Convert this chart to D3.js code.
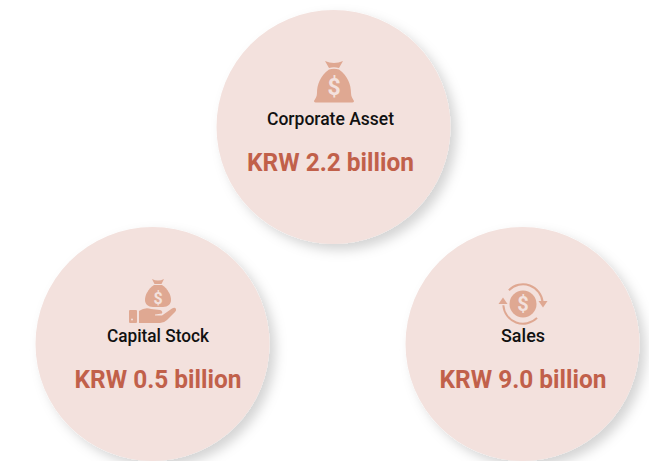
<!DOCTYPE html>
<html>
<head>
<meta charset="utf-8">
<script src="https://cdnjs.cloudflare.com/ajax/libs/d3/7.8.5/d3.min.js"></script>
<style>
    html, body { margin: 0; padding: 0; background: #fff; }
    svg { display: block; }
    text { font-family: Roboto, sans-serif; }
</style>
</head>
<body>
<div id="chart"></div>
<script>
var labels = ["Corporate Asset", "Capital Stock", "Sales"];
var amounts = [2.2, 0.5, 9.0];
var icons = ["bag", "hand", "cycle"];

var width = 649, height = 461;
var radius = 117;
var bubbleColor = "#f3e1dd", iconColor = "#dfa892", valueColor = "#c1604a";

// where each bubble sits and where its text is centred
var bubbleX = [333.5, 152.5, 522.5], bubbleY = [127, 344, 344];
var textX = [330.5, 158, 523];
var iconX = [334, 158, 523], iconY = [87, 298, 304];
// measured widths, the original font is narrower than Roboto
var labelWidth = [127, 102, 44];
var valueWidth = 167;

var canvas = d3.select("#chart").append("svg")
    .attr("width", width)
    .attr("height", height);

var defs = canvas.append("defs");
var shadow = defs.append("filter")
    .attr("id", "shadow")
    .attr("x", "-20%").attr("y", "-20%")
    .attr("width", "140%").attr("height", "140%");
shadow.append("feDropShadow")
    .attr("dx", 6).attr("dy", 6)
    .attr("stdDeviation", 6)
    .attr("flood-color", "#000")
    .attr("flood-opacity", 0.17);

var data = labels.map(function (d, i) {
    return { label: d, amount: amounts[i], icon: icons[i], i: i };
});

canvas.selectAll("circle.bubble")
    .data(data)
    .enter()
    .append("circle")
    .attr("class", "bubble")
    .attr("cx", function (d) { return bubbleX[d.i]; })
    .attr("cy", function (d) { return bubbleY[d.i]; })
    .attr("r", radius)
    .attr("fill", bubbleColor)
    .attr("filter", "url(#shadow)");

function dollar(g, size, fill) {
    g.append("text")
        .attr("text-anchor", "middle")
        .attr("y", size * 0.36)
        .attr("font-size", size)
        .attr("font-weight", 700)
        .attr("fill", fill)
        .text("$");
}

function drawBag(g) {
    g.append("path")
        .attr("fill", iconColor)
        .attr("d", "M-9,-26 Q0,-22 9,-26 L5,-19 Q0,-20.5 -5,-19 Z");
    g.append("path")
        .attr("fill", iconColor)
        .attr("d", "M-5,-17.5 Q0,-19 5,-17.5 C14,-11 17,-2 17,6 C17,10 19,12 20,14 Q20,15.5 17,15.5 L-17,15.5 Q-20,15.5 -20,14 C-19,12 -17,10 -17,6 C-17,-2 -14,-11 -5,-17.5 Z");
    dollar(g, 23, bubbleColor);
}

function drawHand(g) {
    g.append("path")
        .attr("fill", iconColor)
        .attr("d", "M-6,-19 Q0,-16 6,-19 L3.5,-14 L-3.5,-14 Z");
    g.append("path")
        .attr("fill", iconColor)
        .attr("d", "M-4,-13 L4,-13 C10,-9 13,-3 13,2 C13,6 10,9 5,9 L-5,9 C-10,9 -13,6 -13,2 C-13,-3 -10,-9 -4,-13 Z");
    dollar(g, 16, bubbleColor);
    g.append("rect")
        .attr("x", -29).attr("y", 12)
        .attr("width", 8).attr("height", 13)
        .attr("rx", 1)
        .attr("fill", iconColor);
    g.append("circle")
        .attr("cx", -26).attr("cy", 21.5)
        .attr("r", 1)
        .attr("fill", bubbleColor);
    g.append("path")
        .attr("fill", iconColor)
        .attr("d", "M-19,13 Q-13,9 -7,11 L2,12 Q5,13 4,15.5 L-3,16.5 L-3,17.5 L4,17.5 L14,10.5 Q17,9 18,11 Q18.5,12.5 17,14 L9,22 Q6,25 2,25 L-19,25 Z");
}

function drawCycle(g) {
    g.append("circle")
        .attr("r", 13.5)
        .attr("fill", iconColor);
    dollar(g, 20, bubbleColor);
    var arc = d3.arc().innerRadius(18.7).outerRadius(20.7);
    g.append("path")
        .attr("fill", iconColor)
        .attr("d", arc({ startAngle: -0.8, endAngle: 1.5 }));
    g.append("path")
        .attr("fill", iconColor)
        .attr("d", arc({ startAngle: 2.35, endAngle: 4.65 }));
    g.append("path")
        .attr("fill", iconColor)
        .attr("d", "M15.5,-3 L24.5,-3 L20,3.5 Z");
    g.append("path")
        .attr("fill", iconColor)
        .attr("d", "M-24.5,0 L-15.5,0 L-20,-6.5 Z");
}

var drawIcon = { bag: drawBag, hand: drawHand, cycle: drawCycle };

canvas.selectAll("g.icon")
    .data(data)
    .enter()
    .append("g")
    .attr("class", "icon")
    .attr("transform", function (d) {
        return "translate(" + iconX[d.i] + "," + iconY[d.i] + ")";
    })
    .each(function (d) {
        drawIcon[d.icon](d3.select(this));
    });

canvas.selectAll("text.label")
    .data(data)
    .enter()
    .append("text")
    .attr("class", "label")
    .attr("x", function (d) { return textX[d.i]; })
    .attr("y", function (d) { return bubbleY[d.i] - 2.5; })
    .attr("text-anchor", "middle")
    .attr("font-size", 18)
    .attr("font-weight", 500)
    .attr("fill", "#111")
    .attr("textLength", function (d) { return labelWidth[d.i]; })
    .attr("lengthAdjust", "spacingAndGlyphs")
    .text(function (d) { return d.label; });

canvas.selectAll("text.value")
    .data(data)
    .enter()
    .append("text")
    .attr("class", "value")
    .attr("x", function (d) { return textX[d.i]; })
    .attr("y", function (d) { return bubbleY[d.i] + 43.5; })
    .attr("text-anchor", "middle")
    .attr("font-size", 26.5)
    .attr("font-weight", 700)
    .attr("fill", valueColor)
    .attr("textLength", valueWidth)
    .attr("lengthAdjust", "spacingAndGlyphs")
    .text(function (d) { return "KRW " + d.amount.toFixed(1) + " billion"; });
</script>
</body>
</html>
